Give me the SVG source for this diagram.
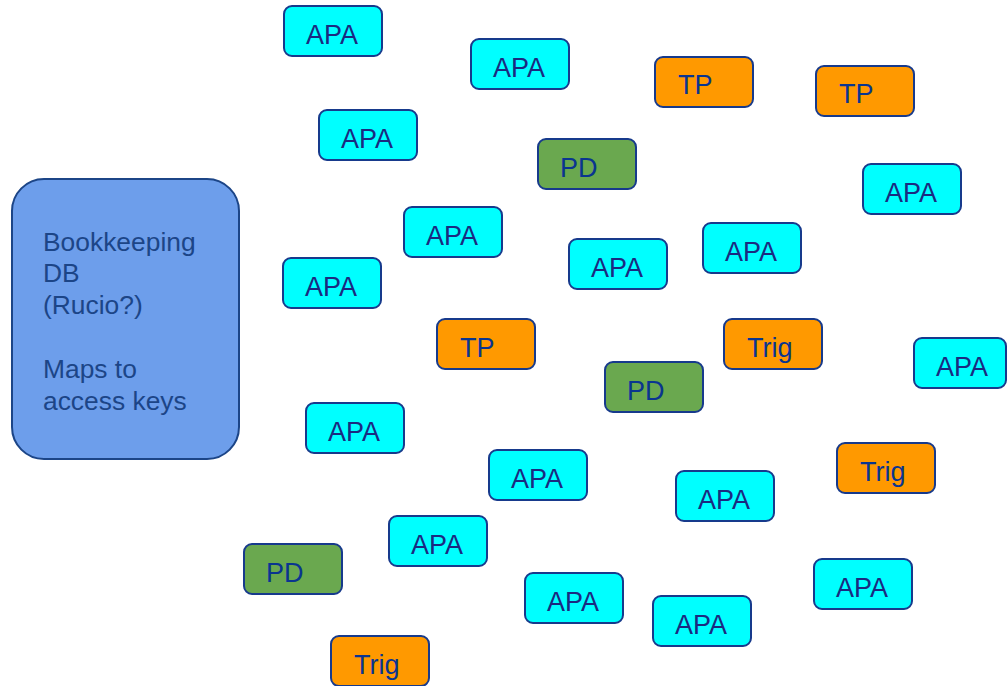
<svg xmlns="http://www.w3.org/2000/svg" width="1007" height="686" viewBox="0 0 1007 686">
<style>
.b{stroke:#173a8c;stroke-width:2}
.apa{fill:#00ffff}
.tp{fill:#ff9900}
.pd{fill:#6aa84f}
text{font-family:"Liberation Sans",Arial,sans-serif;font-size:27px}
.ta{fill:#1b2a80}
.to{fill:#0a3590}
.db{fill:#6d9eeb;stroke:#1c4587;stroke-width:2}
.tdb{fill:#1c4587;font-size:26.4px}
</style>
<rect width="1007" height="686" fill="#ffffff"/>
<g id="connectors"></g>
<g id="bookkeeping">
<rect class="db" x="12" y="179" width="227" height="280" rx="32"/>
<text class="tdb" x="43"><tspan x="43" y="251">Bookkeeping</tspan><tspan x="43" y="282">DB</tspan><tspan x="43" y="314">(Rucio?)</tspan><tspan x="43" y="378">Maps to</tspan><tspan x="43" y="410">access keys</tspan></text>
</g>
<g id="apa1"><rect class="b apa" x="284" y="6" width="98" height="50" rx="8"/><text class="ta" x="306" y="44">APA</text></g>
<g id="apa2"><rect class="b apa" x="471" y="39" width="98" height="50" rx="8"/><text class="ta" x="493" y="77">APA</text></g>
<g id="tp1"><rect class="b tp" x="655" y="57" width="98" height="50" rx="8"/><text class="to" x="678" y="94">TP</text></g>
<g id="tp2"><rect class="b tp" x="816" y="66" width="98" height="50" rx="8"/><text class="to" x="839" y="103">TP</text></g>
<g id="apa3"><rect class="b apa" x="319" y="110" width="98" height="50" rx="8"/><text class="ta" x="341" y="148">APA</text></g>
<g id="pd1"><rect class="b pd" x="538" y="139" width="98" height="50" rx="8"/><text class="to" x="560" y="177">PD</text></g>
<g id="apa4"><rect class="b apa" x="863" y="164" width="98" height="50" rx="8"/><text class="ta" x="885" y="202">APA</text></g>
<g id="apa5"><rect class="b apa" x="404" y="207" width="98" height="50" rx="8"/><text class="ta" x="426" y="245">APA</text></g>
<g id="apa6"><rect class="b apa" x="703" y="223" width="98" height="50" rx="8"/><text class="ta" x="725" y="261">APA</text></g>
<g id="apa7"><rect class="b apa" x="569" y="239" width="98" height="50" rx="8"/><text class="ta" x="591" y="277">APA</text></g>
<g id="apa8"><rect class="b apa" x="283" y="258" width="98" height="50" rx="8"/><text class="ta" x="305" y="296">APA</text></g>
<g id="tp3"><rect class="b tp" x="437" y="319" width="98" height="50" rx="8"/><text class="to" x="460" y="357">TP</text></g>
<g id="trig1"><rect class="b tp" x="724" y="319" width="98" height="50" rx="8"/><text class="to" x="747" y="357">Trig</text></g>
<g id="apa9"><rect class="b apa" x="914" y="338" width="92" height="50" rx="8"/><text class="ta" x="936" y="376">APA</text></g>
<g id="pd2"><rect class="b pd" x="605" y="362" width="98" height="50" rx="8"/><text class="to" x="627" y="400">PD</text></g>
<g id="apa10"><rect class="b apa" x="306" y="403" width="98" height="50" rx="8"/><text class="ta" x="328" y="441">APA</text></g>
<g id="trig2"><rect class="b tp" x="837" y="443" width="98" height="50" rx="8"/><text class="to" x="860" y="481">Trig</text></g>
<g id="apa11"><rect class="b apa" x="489" y="450" width="98" height="50" rx="8"/><text class="ta" x="511" y="488">APA</text></g>
<g id="apa12"><rect class="b apa" x="676" y="471" width="98" height="50" rx="8"/><text class="ta" x="698" y="509">APA</text></g>
<g id="apa13"><rect class="b apa" x="389" y="516" width="98" height="50" rx="8"/><text class="ta" x="411" y="554">APA</text></g>
<g id="pd3"><rect class="b pd" x="244" y="544" width="98" height="50" rx="8"/><text class="to" x="266" y="582">PD</text></g>
<g id="apa14"><rect class="b apa" x="814" y="559" width="98" height="50" rx="8"/><text class="ta" x="836" y="597">APA</text></g>
<g id="apa15"><rect class="b apa" x="525" y="573" width="98" height="50" rx="8"/><text class="ta" x="547" y="611">APA</text></g>
<g id="apa16"><rect class="b apa" x="653" y="596" width="98" height="50" rx="8"/><text class="ta" x="675" y="634">APA</text></g>
<g id="trig3"><rect class="b tp" x="331" y="636" width="98" height="50" rx="8"/><text class="to" x="354" y="674">Trig</text></g>
</svg>
